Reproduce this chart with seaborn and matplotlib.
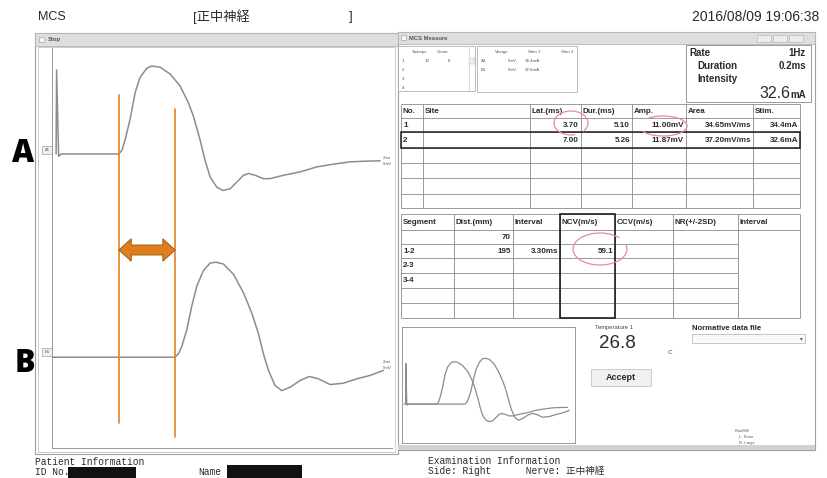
import matplotlib
matplotlib.use("Agg")
import matplotlib.pyplot as plt
from matplotlib.patches import Rectangle, Arc, Polygon
import pandas as pd
import seaborn as sns

# ---- measurement values ----
site_no = [1, 2]
lat_ms = [3.70, 7.00]
dur_ms = [5.10, 5.26]
amp_mv = [11.00, 11.87]
area_mvms = [34.65, 37.20]
stim_ma = [34.4, 32.6]
segment_names = ["", "1-2", "2-3", "3-4"]
dist_mm = [70, 195]
temperature_c = 26.8
rate_hz = 1
pulse_ms = 0.2
intensity_ma = 32.6
sweeps = 10
sweep_count = 8
channel_names = ["A1", "B1"]
vrange_mv = [5, 5]

# ---- recorded waveforms (time after stimulus in ms, amplitude in mV) ----
wave_a_t = [0.00, 0.03, 0.15, 0.30, 3.70, 3.88, 4.06, 4.35, 4.65, 4.94, 5.34, 5.63,
            6.12, 6.71, 7.29, 7.78, 8.08, 8.47, 8.76, 9.06, 9.45, 9.81, 10.24,
            10.63, 11.02, 11.31, 11.71, 12.19, 12.59, 13.37, 14.35, 15.34,
            16.31, 17.29, 18.28, 19.06]
wave_a_v = [0.0, 10.5, -0.3, 0.0, 0.0, 0.5, 1.77, 4.30, 7.68, 9.58, 10.72, 11.00,
            10.85, 10.00, 8.52, 6.42, 4.72, 1.77, -0.76, -2.87, -4.13, -4.56, -4.35,
            -3.51, -2.66, -2.44, -2.66, -3.08, -3.08, -2.66, -2.24, -1.61,
            -1.27, -0.98, -0.89, -0.85]
wave_b_t = [-0.18, 7.00, 7.20, 7.39, 7.69, 7.98, 8.28, 8.66, 9.06, 9.41, 9.84, 10.43,
            11.02, 11.51, 11.90, 12.19, 12.49, 12.88, 13.28, 13.76, 14.35,
            14.90, 15.43, 16.12, 16.90, 17.69, 18.47, 19.25]
wave_b_v = [0.0, 0.0, 0.45, 1.32, 3.42, 6.37, 8.90, 10.80, 11.77, 11.87, 11.65, 10.38,
            8.06, 5.53, 2.99, 0.47, -1.65, -3.54, -4.18, -3.76, -2.91,
            -2.41, -2.70, -3.42, -3.25, -2.70, -2.28, -1.65]

interval_ms = lat_ms[1] - lat_ms[0]
ncv = dist_mm[1] / interval_ms

sns.set_style("white")
plt.rcParams["font.family"] = ["Liberation Sans", "Noto Sans CJK JP", "DejaVu Sans"]
MONO = ["Liberation Mono", "Noto Sans CJK JP", "DejaVu Sans Mono"]

W, H = 828, 478
fig = plt.figure(figsize=(W / 100, H / 100), dpi=100)
fig.patch.set_facecolor("white")

bg = fig.add_axes([0, 0, 1, 1], zorder=0)
bg.set_xlim(0, W)
bg.set_ylim(H, 0)
bg.axis("off")

INK = "#2a2a2a"
GRID = "#8a8a8a"
TRACE = "#8c8c8c"
ORANGE = "#E5801F"
PINK = "#E98AA2"


def rect(x0, y0, x1, y1, fc="none", ec="#a8a8a8", lw=0.6, z=1):
    bg.add_patch(Rectangle((x0, y0), x1 - x0, y1 - y0, facecolor=fc,
                           edgecolor=ec, lw=lw, zorder=z))


def hline(x0, x1, y, c=GRID, lw=0.6, z=2):
    bg.plot([x0, x1], [y, y], color=c, lw=lw, zorder=z, solid_capstyle="butt")


def vline(x, y0, y1, c=GRID, lw=0.6, z=2):
    bg.plot([x, x], [y0, y1], color=c, lw=lw, zorder=z, solid_capstyle="butt")


def txt(x, y, s, size, ha="left", va="center", weight="normal", color=INK,
        family=None, z=5):
    kw = {}
    if family is not None:
        kw["family"] = family
    return bg.text(x, y, s, fontsize=size, ha=ha, va=va, weight=weight,
                   color=color, zorder=z, **kw)


# ---- screen header ----
txt(38, 17, "MCS", 9)
txt(193, 17, "[正中神経", 9.5)
txt(349, 17, "]", 9.5)
txt(819, 17, "2016/08/09 19:06:38", 10, ha="right")

# ---- left window (waveform view) ----
rect(35, 33, 398, 454, fc="white", ec="#a0a0a0", lw=0.8, z=1)
rect(35, 33, 398, 46, fc="#dedede", ec="#b4b4b4", lw=0.6, z=1.5)
rect(39, 37, 44, 42, fc="#f4f4f4", ec="#9a9a9a", lw=0.4, z=2)
txt(48, 39.5, "Stop", 4.2, weight="bold", color="#555555")
rect(38, 47, 395, 452, fc="none", ec="#b8b8b8", lw=0.5, z=1.6)
for name, yc in zip(channel_names, [150, 352]):
    rect(42, yc - 4, 52, yc + 4, fc="#f0f0f0", ec="#8a8a8a", lw=0.4, z=2)
    txt(47, yc, name, 3.0, ha="center", color="#555555")
for yc in [161, 365]:
    txt(383, yc - 3, "2ms", 3.2, color="#555555")
    txt(383, yc + 3, "5mV", 3.2, color="#555555")

# ---- right window (measurement view) ----
rect(398, 32, 815, 450, fc="white", ec="#a0a0a0", lw=0.8, z=3)
rect(398, 32, 815, 44, fc="#dedede", ec="#b4b4b4", lw=0.6, z=3.1)
rect(401, 35, 406, 40, fc="#f4f4f4", ec="#9a9a9a", lw=0.4, z=3.2)
txt(409, 38, "MCS Measure", 4.2, weight="bold", color="#555555")
for bx in [757, 773, 789]:
    rect(bx, 35, bx + 14, 42, fc="#ececec", ec="#b0b0b0", lw=0.4, z=3.2)
rect(398, 445, 815, 450, fc="#d2d2d2", ec="none", z=3.1)

# sweep list
rect(398, 46, 475, 91, fc="white", ec="#a0a0a0", lw=0.5, z=3.2)
vline(469, 46, 91, c="#c0c0c0", lw=0.4, z=3.3)
rect(469, 58, 475, 64, fc="#eeeeee", ec="#b0b0b0", lw=0.3, z=3.3)
txt(412, 52, "Sweeps", 3.2, color="#555555")
txt(437, 52, "Count", 3.2, color="#555555")
for i, yy in enumerate([61, 70, 79, 88]):
    txt(402, yy, str(i + 1), 3.2, color="#555555")
txt(430, 61, str(sweeps), 3.2, ha="right", color="#555555")
txt(450, 61, str(sweep_count), 3.2, ha="right", color="#555555")

# channel settings
rect(477, 46, 577, 92, fc="white", ec="#a0a0a0", lw=0.5, z=3.2)
txt(495, 52, "Vrange", 3.2, color="#555555")
txt(528, 52, "Stim 1", 3.2, color="#555555")
txt(561, 52, "Stim 2", 3.2, color="#555555")
for name, vr, st, yy in zip(channel_names, vrange_mv, stim_ma, [61, 70]):
    txt(481, yy, name, 3.2, color="#555555")
    txt(508, yy, f"{vr}mV", 3.2, color="#555555")
    txt(525, yy, f"{st:.1f}mA", 3.2, color="#555555")

# stimulus settings
rect(686, 45, 811, 102, fc="white", ec="#8a8a8a", lw=0.6, z=3.2)
txt(689, 53, "Rate", 7, weight="bold")
txt(806, 53, f"{rate_hz}Hz", 7, weight="bold", ha="right")
txt(697, 66, "Duration", 7, weight="bold")
txt(806, 66, f"{pulse_ms}ms", 7, weight="bold", ha="right")
txt(697, 79, "Intensity", 7, weight="bold")
txt(790, 93, f"{intensity_ma:.1f}", 11.5, ha="right")
txt(806, 95, "mA", 7, weight="bold", ha="right")

# ---- response table ----
t1_x = [401, 423, 530, 581, 632, 686, 753, 800]
t1_y = [104, 118, 132, 148, 163, 178, 194, 208]
for x in t1_x:
    vline(x, t1_y[0], t1_y[-1], z=3.5)
for y in t1_y:
    hline(t1_x[0], t1_x[-1], y, z=3.5)
rect(401, 132, 800, 148, fc="none", ec="#1e1e1e", lw=1.1, z=3.6)
t1_head = ["No.", "Site", "Lat.(ms)", "Dur.(ms)", "Amp.", "Area", "Stim."]
for x, s in zip(t1_x[:-1], t1_head):
    txt(x + 2, 111, s, 5.8, weight="bold", z=4)
for i in range(len(site_no)):
    yy = (t1_y[i + 1] + t1_y[i + 2]) / 2
    cells = [f"{lat_ms[i]:.2f}", f"{dur_ms[i]:.2f}", f"{amp_mv[i]:.2f}mV",
             f"{area_mvms[i]:.2f}mV/ms", f"{stim_ma[i]:.1f}mA"]
    txt(t1_x[0] + 2, yy, str(site_no[i]), 5.8, weight="bold", z=4)
    for x, s in zip(t1_x[3:], cells):
        txt(x - 2, yy, s, 5.8, ha="right", weight="bold", z=4)

# ---- conduction velocity table ----
t2_x = [401, 454, 513, 560, 615, 673, 738, 800]
t2_y = [214, 230, 244, 258, 273, 288, 303, 318]
for x in t2_x:
    vline(x, t2_y[0], t2_y[-1], z=3.5)
hline(t2_x[0], t2_x[-1], t2_y[0], z=3.5)
hline(t2_x[0], t2_x[-1], t2_y[1], z=3.5)
hline(t2_x[0], t2_x[-1], t2_y[-1], z=3.5)
for y in t2_y[2:-1]:
    hline(t2_x[0], t2_x[-2], y, z=3.5)
rect(560, 214, 615, 318, fc="none", ec="#1e1e1e", lw=1.2, z=3.6)
t2_head = ["Segment", "Dist.(mm)", "Interval", "NCV(m/s)", "CCV(m/s)",
           "NR(+/-2SD)", "Interval"]
for x, s in zip(t2_x[:-1], t2_head):
    txt(x + 2, 222, s, 5.8, weight="bold", z=4)
for i, seg in enumerate(segment_names):
    yy = (t2_y[i + 1] + t2_y[i + 2]) / 2
    txt(t2_x[0] + 2, yy, seg, 5.8, weight="bold", z=4)
    if i < len(dist_mm):
        txt(t2_x[2] - 2, yy, str(dist_mm[i]), 5.8, ha="right", weight="bold", z=4)
yy = (t2_y[2] + t2_y[3]) / 2
txt(t2_x[3] - 2, yy, f"{interval_ms:.2f}ms", 5.8, ha="right", weight="bold", z=4)
txt(t2_x[4] - 2, yy, f"{ncv:.1f}", 5.8, ha="right", weight="bold", z=4)

# hand-drawn marks
bg.add_patch(Arc((571, 123), 34, 24, theta1=70, theta2=395, color=PINK, lw=0.9, zorder=6))
bg.add_patch(Arc((663, 126), 48, 20, theta1=-150, theta2=165, color=PINK, lw=0.9, zorder=6))
bg.add_patch(Arc((600, 249), 54, 32, theta1=-10, theta2=330, color=PINK, lw=0.9, zorder=6))

# ---- lower panel of the measurement view ----
txt(595, 327, "Temperature 1", 4.2, color="#444444")
txt(599, 344, f"{temperature_c}", 13.5)
txt(668, 352, "C", 4.5, color="#444444")
rect(591, 369, 651, 386, fc="#f0f0f0", ec="#c4c4c4", lw=0.6, z=3.5)
txt(621, 377.5, "Accept", 6.5, ha="center", weight="bold")
txt(692, 328, "Normative data file", 5.6, weight="bold")
rect(692, 334, 805, 343, fc="#fafafa", ec="#b0b0b0", lw=0.5, z=3.5)
txt(801, 338.5, "▾", 4, ha="center", color="#555555", family="DejaVu Sans")
txt(735, 431, "FootSW", 3.0, color="#555555")
txt(739, 437, "L: Store", 3.0, color="#555555")
txt(739, 443, "R: Large", 3.0, color="#555555")

# ---- texts under the windows ----
txt(35, 462, "Patient Information", 6.9, family=MONO)
txt(35, 472, "ID No.", 6.9, family=MONO)
txt(198, 472, "Name", 6.9, family=MONO)
rect(68, 467, 136, 480, fc="#111111", ec="none", z=6)
rect(227, 465, 302, 480, fc="#111111", ec="none", z=6)
txt(428, 461, "Examination Information", 6.9, family=MONO)
txt(428, 471, "Side: Right      Nerve: 正中神経", 6.9, family=MONO)

# ---- figure letters ----
for letter, lx, ly in [("A", 23, 154), ("B", 25, 364)]:
    txt(lx, ly, letter, 22, ha="center", weight="heavy", color="black",
        family=["Open Sans", "DejaVu Sans"])

# ---- waveform data frames ----
waves = pd.concat([
    pd.DataFrame({"t": wave_a_t, "v": wave_a_v, "trace": "A"}),
    pd.DataFrame({"t": wave_b_t, "v": wave_b_v, "trace": "B"}),
], ignore_index=True)
trace_offset = {"A": 0.0, "B": -25.4}
waves["y"] = waves["v"] + waves["trace"].map(trace_offset)


def px_axes(x0, y0, x1, y1, z):
    return fig.add_axes([x0 / W, 1 - y1 / H, (x1 - x0) / W, (y1 - y0) / H], zorder=z)


# main sweep display: 2 ms/div, 5 mV/div
ax = px_axes(52, 48, 392, 448, 2)
ax.set_facecolor("none")
sns.lineplot(data=waves, x="t", y="y", units="trace", estimator=None, sort=False,
             color=TRACE, linewidth=1.1, ax=ax)
x_lo, y_hi = -0.24, 13.25
ax.set_xlim(x_lo, x_lo + 20)
ax.set_ylim(y_hi - 50, y_hi)
ax.set_xticks([x_lo + 2 * k for k in range(1, 10)])
ax.set_yticks([y_hi - 5 * k for k in range(1, 10)])
ax.tick_params(direction="in", length=3, width=0.6, colors="#9a9a9a",
               labelbottom=False, labelleft=False)
ax.set_xlabel("")
ax.set_ylabel("")
for side in ["top", "right"]:
    ax.spines[side].set_visible(False)
for side in ["left", "bottom"]:
    ax.spines[side].set_color("#9a9a9a")
    ax.spines[side].set_linewidth(0.7)

# onset markers and the latency difference between them
ax.axvline(lat_ms[0], ymin=0.0625, ymax=0.8825, color=ORANGE, lw=1.2)
ax.axvline(lat_ms[1], ymin=0.0275, ymax=0.8475, color=ORANGE, lw=1.2)
yc, hh, sh, hl = -12.0, 1.4, 0.62, 0.72
x0, x1 = lat_ms
arrow = Polygon([(x0, yc), (x0 + hl, yc + hh), (x0 + hl, yc + sh), (x1 - hl, yc + sh),
                 (x1 - hl, yc + hh), (x1, yc), (x1 - hl, yc - hh), (x1 - hl, yc - sh),
                 (x0 + hl, yc - sh), (x0 + hl, yc - hh)], closed=True,
                facecolor="#E07E1C", edgecolor="#9a5a1a", lw=0.7, zorder=5)
ax.add_patch(arrow)

# overlay of both responses
mini = px_axes(402, 327, 575, 443, 4)
mini.set_facecolor("white")
sns.lineplot(data=waves, x="t", y="v", units="trace", estimator=None, sort=False,
             color=TRACE, linewidth=0.9, ax=mini)
mini.set_xlim(-0.42, 19.93)
mini.set_ylim(-10.1, 20)
mini.set_xticks(list(range(2, 20, 2)))
mini.set_yticks([-5, 5, 15])
mini.tick_params(direction="in", length=2, width=0.5, colors="#8a8a8a",
                 labelbottom=False, labelleft=False)
mini.set_xlabel("")
mini.set_ylabel("")
for s in mini.spines.values():
    s.set_color("#8a8a8a")
    s.set_linewidth(0.6)

fig.savefig("out.png", dpi=100)
